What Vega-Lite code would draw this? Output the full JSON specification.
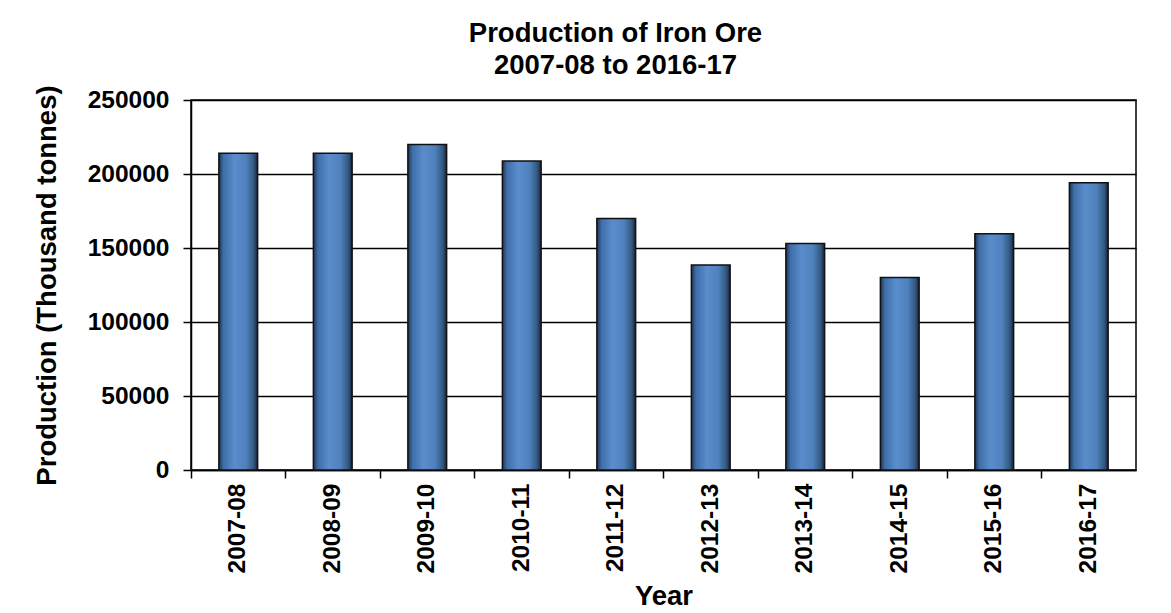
{
  "$schema": "https://vega.github.io/schema/vega-lite/v6.json",
  "autosize": {"type": "none"},
  "width": 945,
  "height": 370,
  "padding": {"left": 191, "top": 100, "right": 35, "bottom": 143},
  "background": "white",
  "title": {
    "text": ["Production of Iron Ore", "2007-08 to 2016-17"],
    "font": "Liberation Sans",
    "fontSize": 27.5,
    "fontWeight": "bold",
    "color": "black",
    "anchor": "middle",
    "dx": -48,
    "offset": 5,
    "lineHeight": 32
  },
  "data": {
    "values": [
      {"year": "2007-08", "production": 214000},
      {"year": "2008-09", "production": 214100},
      {"year": "2009-10", "production": 220000},
      {"year": "2010-11", "production": 208700},
      {"year": "2011-12", "production": 169900},
      {"year": "2012-13", "production": 138500},
      {"year": "2013-14", "production": 153000},
      {"year": "2014-15", "production": 130000},
      {"year": "2015-16", "production": 159700},
      {"year": "2016-17", "production": 194100}
    ]
  },
  "mark": {
    "type": "bar",
    "width": {"band": 0.41},
    "stroke": "#111111",
    "strokeWidth": 1.5,
    "color": {
      "gradient": "linear",
      "x1": 0, "x2": 1, "y1": 0, "y2": 0,
      "stops": [
        {"offset": 0, "color": "#1e3553"},
        {"offset": 0.12, "color": "#3f6ea8"},
        {"offset": 0.4, "color": "#5a8dcc"},
        {"offset": 0.7, "color": "#4f81bd"},
        {"offset": 0.9, "color": "#33587f"},
        {"offset": 1, "color": "#14243a"}
      ]
    }
  },
  "encoding": {
    "x": {
      "field": "year",
      "type": "nominal",
      "sort": null,
      "scale": {"paddingInner": 0, "paddingOuter": 0},
      "axis": {
        "title": "Year",
        "labelAngle": -90,
        "bandPosition": 0,
        "tickSize": 8,
        "labelPadding": 5,
        "titlePadding": 10,
        "grid": false
      }
    },
    "y": {
      "field": "production",
      "type": "quantitative",
      "scale": {"domain": [0, 250000], "nice": false},
      "axis": {
        "title": "Production (Thousand tonnes)",
        "values": [0, 50000, 100000, 150000, 200000, 250000],
        "format": "d",
        "tickSize": 8,
        "labelPadding": 14,
        "titlePadding": 26,
        "grid": true
      }
    }
  },
  "config": {
    "font": "Liberation Sans",
    "view": {"stroke": "black", "strokeWidth": 1.5},
    "axis": {
      "labelFont": "Liberation Sans",
      "labelFontSize": 24.5,
      "labelFontWeight": "bold",
      "labelColor": "black",
      "titleFont": "Liberation Sans",
      "titleFontSize": 27.5,
      "titleFontWeight": "bold",
      "titleColor": "black",
      "domainColor": "black",
      "domainWidth": 1.5,
      "tickColor": "black",
      "tickWidth": 1.5,
      "gridColor": "black",
      "gridWidth": 1.5,
      "gridOpacity": 1
    }
  }
}
